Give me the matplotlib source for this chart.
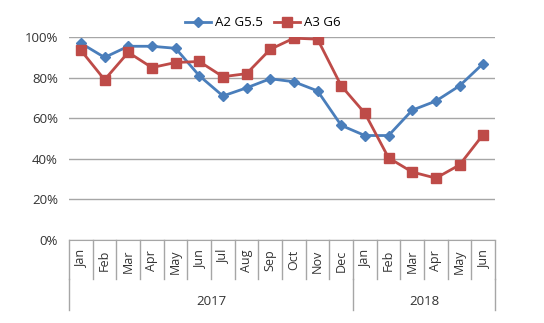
import matplotlib
matplotlib.use("Agg")
import matplotlib.pyplot as plt
from matplotlib.ticker import PercentFormatter

months = ["Jan", "Feb", "Mar", "Apr", "May", "Jun", "Jul", "Aug", "Sep", "Oct", "Nov", "Dec",
          "Jan", "Feb", "Mar", "Apr", "May", "Jun"]
years = ["2017", "2018"]
year_counts = [12, 6]
a2_g55 = [97, 90, 95.5, 95.5, 94.5, 81, 71, 75, 79.5, 78, 73.5, 56.5,
          51.5, 51.5, 64, 68.5, 76, 87]
a3_g6 = [93.5, 79, 92.5, 85, 87.5, 88, 80.5, 82, 94, 99.5, 99, 76,
         62.5, 40.5, 33.5, 30.5, 37, 52]

plt.rcParams["font.family"] = ["Open Sans", "DejaVu Sans"]
blue = "#4a7ebb"
red = "#be4b48"
txt = "#333333"

fig = plt.figure(figsize=(5.44, 3.23), dpi=100)
ax = fig.add_axes([0.127, 0.257, 0.783, 0.628])

x = list(range(len(months)))
ax.plot(x, a2_g55, color=blue, lw=2, marker="D", ms=5.5, label="A2 G5.5")
ax.plot(x, a3_g6, color=red, lw=2, marker="s", ms=7.5, label="A3 G6")

ax.set_xlim(-0.5, len(months) - 0.5)
ax.set_ylim(0, 100)
ax.set_yticks([0, 20, 40, 60, 80, 100])
ax.yaxis.set_major_formatter(PercentFormatter(decimals=0))
ax.grid(axis="y", color="#a6a6a6", lw=1)
ax.set_axisbelow(True)
for s in ["top", "right", "left"]:
    ax.spines[s].set_visible(False)
ax.spines["bottom"].set_color("#a6a6a6")
ax.tick_params(axis="y", length=0, labelsize=9.5, colors=txt, pad=8)
ax.tick_params(axis="x", length=0, pad=7)
ax.set_xticks(x)
ax.set_xticklabels(months, rotation=90, fontsize=9, color=txt)

# month separators
tr = ax.get_xaxis_transform()
for i in range(len(months) + 1):
    ax.plot([i - 0.5, i - 0.5], [0, -0.19], transform=tr, color="#a6a6a6", lw=1, clip_on=False)

# year groups
start = 0
for yr, n in zip(years, year_counts):
    ax.text(start + n / 2 - 0.5, -0.305, yr, transform=tr, ha="center", va="center",
            fontsize=9.5, color=txt)
    start += n
bounds = [0]
for n in year_counts:
    bounds.append(bounds[-1] + n)
for b in bounds:
    ax.plot([b - 0.5, b - 0.5], [-0.19, -0.345], transform=tr, color="#a6a6a6", lw=1, clip_on=False)

ax.legend(loc="lower center", bbox_to_anchor=(0.455, 1.0), ncol=2, frameon=False,
          fontsize=9.5, handlelength=2.0, columnspacing=0.8, handletextpad=0.3,
          borderaxespad=0.2)

fig.savefig("out.png", dpi=100)
